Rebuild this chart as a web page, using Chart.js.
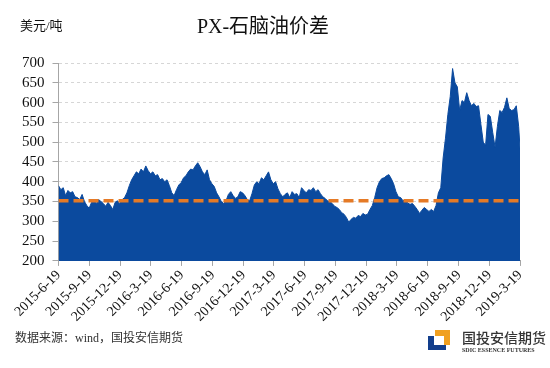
<!DOCTYPE html>
<html>
<head>
<meta charset="utf-8">
<script src="https://cdn.jsdelivr.net/npm/chart.js@4.4.1/dist/chart.umd.min.js"></script>
<style>
html, body { margin: 0; padding: 0; background: #fff; }
#wrap { width: 550px; height: 368px; }
</style>
</head>
<body>
<div id="wrap"><canvas id="myChart" width="550" height="368"></canvas></div>
<script>
// quarterly tick labels on the date axis
var tickLabels = ["2015-6-19", "2015-9-19", "2015-12-19", "2016-3-19", "2016-6-19", "2016-9-19",
    "2016-12-19", "2017-3-19", "2017-6-19", "2017-9-19", "2017-12-19", "2018-3-19",
    "2018-6-19", "2018-9-19", "2018-12-19", "2019-3-19"];

// PX - naphtha spread, one reading per week starting 2015-6-19 (USD/t), last one is 2019-3-19
var spread = [
    390, 380, 385, 365, 378, 372, 375, 362, 360, 355,
    368, 350, 340, 333, 348, 352, 345, 355, 350, 345,
    338, 348, 340, 330, 348, 352, 345, 355, 360, 372,
    390, 405, 415, 425, 420, 432, 425, 440, 428, 420,
    425, 415, 418, 405, 408, 400, 405, 390, 372, 365,
    380, 392, 398, 410, 415, 425, 432, 430, 440, 448,
    438, 425, 418, 430, 405, 395, 388, 372, 362, 350,
    345, 352, 368, 375, 365, 358, 362, 375, 372, 365,
    355, 352, 370, 392, 400, 395, 410, 405, 415, 425,
    405, 395, 400, 382, 370, 362, 368, 372, 360, 375,
    368, 370, 360, 385, 378, 372, 380, 378, 385, 375,
    380, 370, 362, 358, 352, 350, 345, 338, 335, 330,
    322, 318, 310, 298, 305, 310, 308, 315, 312, 320,
    316, 318, 330, 340, 360, 385, 400, 408, 410, 415,
    418, 408, 395, 375, 362, 360, 352, 355, 346, 343,
    345, 338, 330, 320, 328, 335, 330, 325, 330, 325,
    340, 372, 385, 460, 510, 570, 615, 686, 650, 640,
    580, 605, 600, 625, 605, 592, 598, 590, 592, 545,
    500, 492, 570, 565, 525, 487, 540, 580, 575, 588,
    612, 585, 580, 582, 592, 540, 485
];

// average of the period (dashed line)
var average = 352;

var startDay = Date.UTC(2015, 5, 19);

function dayOf(label) {
    var p = label.split("-");
    return Math.round((Date.UTC(+p[0], +p[1] - 1, +p[2]) - startDay) / 86400000);
}

var tickDays = tickLabels.map(dayOf);
var lastDay = tickDays[tickDays.length - 1];

var spreadPoints = [];
for (let i = 0; i < spread.length; i++) {
    spreadPoints.push({ x: Math.min(i * 7, lastDay), y: spread[i] });
}

var serif = '"Liberation Serif", "Times New Roman", serif';
var cjk = '"Liberation Serif", "Noto Sans CJK SC", serif';

var extrasPlugin = {
    id: "extras",
    afterDraw: function (chart) {
        var ctx = chart.ctx;
        ctx.save();
        ctx.textBaseline = "middle";

        ctx.fillStyle = "#111";
        ctx.font = "20px " + cjk;
        ctx.textAlign = "center";
        ctx.fillText("PX-石脑油价差", 263, 28);

        ctx.font = "13px " + cjk;
        ctx.textAlign = "left";
        ctx.fillText("美元/吨", 20, 27);

        ctx.fillStyle = "#333";
        ctx.font = "12px " + cjk;
        ctx.fillText("数据来源：wind，国投安信期货", 15, 339);

        // logo
        ctx.fillStyle = "#F0A020";
        ctx.fillRect(435, 330, 15, 15);
        ctx.fillStyle = "#fff";
        ctx.fillRect(433, 336, 11, 10);
        ctx.fillStyle = "#123E8C";
        ctx.fillRect(428, 336, 6, 14);
        ctx.fillRect(428, 345, 18, 5);

        ctx.fillStyle = "#333";
        ctx.font = "500 14px " + cjk;
        ctx.fillText("国投安信期货", 462, 339);
        ctx.font = "bold 6px " + serif;
        ctx.fillText("SDIC ESSENCE FUTURES", 462, 350);
        ctx.restore();
    },
};

var config = {
    type: "line",
    data: {
        datasets: [
            {
                label: "价差",
                data: spreadPoints,
                borderColor: "#0B4A9E",
                backgroundColor: "#0B4A9E",
                borderWidth: 1,
                pointRadius: 0,
                fill: "start",
                tension: 0,
                order: 2,
            },
            {
                label: "均值",
                data: [{ x: 0, y: average }, { x: lastDay, y: average }],
                borderColor: "#E57A26",
                borderWidth: 3.5,
                borderDash: [10, 5],
                pointRadius: 0,
                fill: false,
                order: 1,
            },
        ],
    },
    options: {
        responsive: false,
        animation: false,
        layout: { padding: { top: 63, left: 14, right: 30, bottom: 42 } },
        plugins: {
            legend: { display: false },
            tooltip: { enabled: false },
        },
        scales: {
            x: {
                type: "linear",
                min: 0,
                max: lastDay,
                afterBuildTicks: function (scale) {
                    scale.ticks = tickDays.map(function (d) { return { value: d }; });
                },
                ticks: {
                    autoSkip: false,
                    maxRotation: 45,
                    minRotation: 45,
                    padding: 1,
                    color: "#111",
                    font: { family: serif, size: 14 },
                    callback: function (value) {
                        var idx = tickDays.indexOf(value);
                        return idx >= 0 ? tickLabels[idx] : "";
                    },
                },
                grid: {
                    drawOnChartArea: false,
                    tickLength: 5,
                    tickColor: "#a6a6a6",
                },
                border: { color: "#a6a6a6", width: 1 },
            },
            y: {
                min: 200,
                max: 700,
                ticks: {
                    stepSize: 50,
                    autoSkip: false,
                    padding: 8,
                    color: "#111",
                    font: { family: serif, size: 15 },
                },
                grid: {
                    color: "#d6d6d6",
                    tickLength: 6,
                    tickColor: "#a6a6a6",
                    tickBorderDash: [],
                },
                border: { color: "#a6a6a6", width: 1, dash: [3, 3] },
            },
        },
    },
    plugins: [extrasPlugin],
};

var ctx = document.getElementById("myChart").getContext("2d");
var myChart = new Chart(ctx, config);
</script>
</body>
</html>
